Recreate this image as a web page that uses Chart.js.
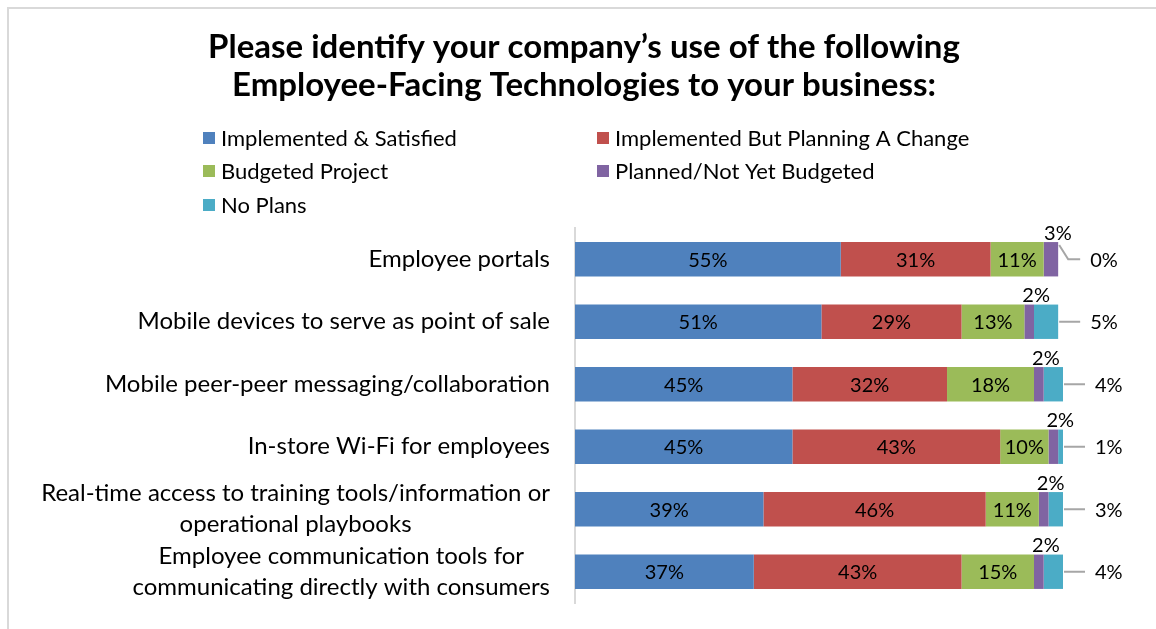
<!DOCTYPE html>
<html>
<head>
<meta charset="utf-8">
<script src="https://cdn.jsdelivr.net/npm/chart.js@4.4.1/dist/chart.umd.min.js"></script>
<style>
    body { margin: 0; background: #fff; }
    canvas { display: block; }
</style>
</head>
<body>
<canvas id="techChart" width="1156" height="629"></canvas>
<script>
// Survey answers per technology, in percent
const categories = [
    'Employee portals',
    'Mobile devices to serve as point of sale',
    'Mobile peer-peer messaging/collaboration',
    'In-store Wi-Fi for employees',
    ['Real-time access to training tools/information or', 'operational playbooks'],
    ['Employee communication tools for', 'communicating directly with consumers']
];
const implementedSatisfied = [55, 51, 45, 45, 39, 37];
const implementedChange = [31, 29, 32, 43, 46, 43];
const budgetedProject = [11, 13, 18, 10, 11, 15];
const plannedNotBudgeted = [3, 2, 2, 2, 2, 2];
const noPlans = [0, 5, 4, 1, 3, 4];

const seriesNames = [
    'Implemented & Satisfied',
    'Implemented But Planning A Change',
    'Budgeted Project',
    'Planned/Not Yet Budgeted',
    'No Plans'
];
const seriesColors = ['#4F81BD', '#C0504D', '#9BBB59', '#8064A2', '#4BACC6'];

const FONT = 'Lato, "Open Sans", sans-serif';

// Frame, legend grid, category labels and value labels
const decorPlugin = {
    id: 'decor',
    beforeDraw(chart) {
        const ctx = chart.ctx;
        ctx.save();
        ctx.strokeStyle = '#d9d9d9';
        ctx.lineWidth = 2;
        ctx.strokeRect(8, 8, 1300, 800);
        ctx.restore();
    },
    afterDatasetsDraw(chart) {
        const ctx = chart.ctx;
        ctx.save();
        ctx.font = `20px ${FONT}`;
        ctx.fillStyle = '#000';
        ctx.textBaseline = 'middle';
        chart.data.datasets.forEach((ds, i) => {
            const meta = chart.getDatasetMeta(i);
            meta.data.forEach((bar, j) => {
                const { x, y, base, height } = bar.getProps(['x', 'y', 'base', 'height'], true);
                const text = ds.data[j] + '%';
                if (i < 3) {
                    ctx.textAlign = 'center';
                    ctx.fillText(text, (x + base) / 2, y + 1);
                } else if (i === 3) {
                    ctx.textAlign = 'center';
                    ctx.fillText(text, (x + base) / 2 + 7, y - height / 2 - 9);
                } else {
                    // leader line out to the right of the bar end
                    ctx.strokeStyle = '#a6a6a6';
                    ctx.lineWidth = 2;
                    ctx.beginPath();
                    if (ds.data[j] === 0) {
                        ctx.moveTo(x + 1, y - height / 2 + 3);
                        ctx.lineTo(x + 10, y);
                    } else {
                        ctx.moveTo(x + 1, y);
                    }
                    ctx.lineTo(x + 22, y);
                    ctx.stroke();
                    ctx.textAlign = 'left';
                    ctx.fillText(text, x + 32, y + 1);
                }
            });
        });
        ctx.restore();
    },
    afterDraw(chart) {
        const ctx = chart.ctx;
        ctx.save();

        // legend, two columns
        const cols = [203, 597];
        const rows = [138, 171, 205];
        ctx.font = `22px ${FONT}`;
        ctx.textBaseline = 'middle';
        ctx.textAlign = 'left';
        chart.data.datasets.forEach((ds, i) => {
            const lx = cols[i % 2];
            const ly = rows[Math.floor(i / 2)];
            ctx.fillStyle = ds.backgroundColor;
            ctx.fillRect(lx, ly - 6, 12, 12);
            ctx.fillStyle = '#000';
            ctx.fillText(ds.label, lx + 18, ly + 1);
        });

        // category labels: right aligned block, lines centred inside it
        const yScale = chart.scales.y;
        const right = chart.chartArea.left - 25;
        const lineH = 31;
        ctx.font = `24px ${FONT}`;
        ctx.fillStyle = '#000';
        chart.data.labels.forEach((label, j) => {
            const lines = Array.isArray(label) ? label : [label];
            const yc = yScale.getPixelForTick(j);
            const widths = lines.map(l => ctx.measureText(l).width);
            const blockW = Math.max(...widths);
            const cx = right - blockW / 2;
            ctx.textAlign = 'center';
            lines.forEach((l, k) => {
                const ly = yc + (k - (lines.length - 1) / 2) * lineH;
                ctx.fillText(l, cx, ly);
            });
        });
        ctx.restore();
    }
};

const seriesData = [implementedSatisfied, implementedChange, budgetedProject, plannedNotBudgeted, noPlans];

new Chart(document.getElementById('techChart').getContext('2d'), {
    type: 'bar',
    data: {
        labels: categories,
        datasets: seriesData.map((values, i) => ({
            label: seriesNames[i],
            data: values,
            backgroundColor: seriesColors[i],
            borderWidth: 0,
            barPercentage: 0.55,
            categoryPercentage: 1
        }))
    },
    options: {
        indexAxis: 'y',
        responsive: false,
        animation: false,
        layout: {
            padding: { left: 105, right: 93, top: 0, bottom: 26 }
        },
        plugins: {
            legend: { display: false },
            tooltip: { enabled: false },
            title: {
                display: true,
                text: [
                    'Please identify your company\u2019s use of the following',
                    'Employee-Facing Technologies to your business:'
                ],
                color: '#000',
                font: { family: FONT, size: 33, weight: 'bold', lineHeight: 1.15 },
                padding: { top: 28, bottom: 124.1 }
            }
        },
        scales: {
            x: {
                stacked: true,
                display: false,
                min: 0,
                max: 101
            },
            y: {
                stacked: true,
                grid: { display: false },
                border: { display: true, color: '#d9d9d9', width: 2 },
                ticks: { display: false },
                afterFit(scale) {
                    scale.width = 470;
                }
            }
        }
    },
    plugins: [decorPlugin]
});
</script>
</body>
</html>
